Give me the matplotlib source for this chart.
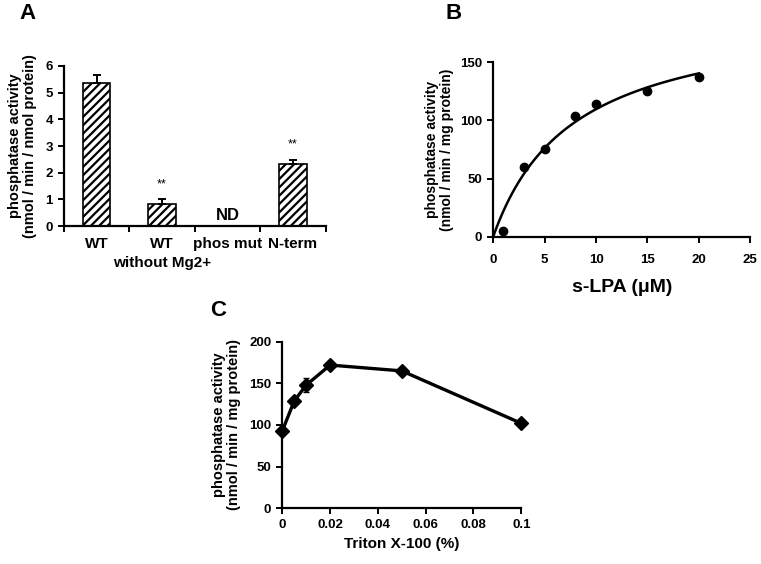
import numpy as np
import matplotlib
matplotlib.use('Agg')
import matplotlib.pyplot as plt

plt.rcParams['font.family'] = ['Liberation Sans', 'DejaVu Sans']
plt.rcParams['font.weight'] = 'bold'
plt.rcParams['axes.labelweight'] = 'bold'
plt.rcParams['hatch.linewidth'] = 1.6

# panel A
a_labels = ['WT', 'WT', 'phos mut', 'N-term']
a_sublabel = 'without Mg2+'
a_values = [5.37, 0.82, 0.0, 2.32]
a_errors = [0.28, 0.18, 0.0, 0.15]
a_marks = ['', '**', 'ND', '**']

# panel B
b_conc = [1, 3, 5, 8, 10, 15, 20]
b_activity = [5, 60, 75, 104, 114, 125, 137]
b_vmax = 195.0
b_km = 7.8

# panel C
c_triton = [0, 0.005, 0.01, 0.02, 0.05, 0.1]
c_activity = [93, 129, 148, 172, 165, 102]
c_errors = [4, 3, 8, 4, 3, 3]


def style_axes(ax):
	for side in ['top', 'right']:
		ax.spines[side].set_visible(False)
	for side in ['left', 'bottom']:
		ax.spines[side].set_linewidth(1.6)
	ax.tick_params(width=1.4, length=4, labelsize=9.5, pad=4)
	for lab in ax.get_xticklabels() + ax.get_yticklabels():
		lab.set_fontweight('bold')


fig = plt.figure(figsize=(7.61, 5.64), dpi=100)

# ---- A ----
ax = fig.add_axes([0.084, 0.599, 0.344, 0.284])
x = np.arange(len(a_values))
ax.bar(x, a_values, width=0.42, color='white', edgecolor='black',
	linewidth=1.2, hatch='////')
ax.errorbar(x, a_values, yerr=[np.zeros(len(a_errors)), a_errors],
	fmt='none', ecolor='black', elinewidth=1.4, capsize=3, capthick=1.4)
for xi, v, e, m in zip(x, a_values, a_errors, a_marks):
	if m == 'ND':
		ax.text(xi, 0.12, m, ha='center', va='bottom', fontsize=12)
	elif m:
		ax.text(xi, v + e + 0.35, m, ha='center', va='bottom', fontsize=9,
			fontweight='normal')
ax.set_xlim(-0.5, 3.5)
ax.set_ylim(0, 6)
ax.set_yticks(range(0, 7))
ax.set_xticks(np.arange(-0.5, 4, 1))
ax.set_xticklabels([])
ax.set_xticks(x, minor=True)
ax.set_xticklabels(a_labels, minor=True)
style_axes(ax)
ax.tick_params(axis='x', which='minor', length=0, labelsize=11, pad=8)
ax.text(1, -1.1, a_sublabel, ha='center', va='top', fontsize=11)
ax.set_ylabel('phosphatase activity\n(nmol / min / nmol protein)',
	fontsize=10.5, linespacing=1.1, labelpad=6)
fig.text(0.026, 0.995, 'A', fontsize=16, fontweight='bold', va='top')

# ---- B ----
ax = fig.add_axes([0.648, 0.580, 0.338, 0.310])
xs = np.linspace(0, 20, 100)
ax.plot(xs, b_vmax * xs / (b_km + xs), color='black', linewidth=1.8)
ax.plot(b_conc, b_activity, 'o', color='black', markersize=6)
ax.set_xlim(0, 25)
ax.set_ylim(0, 150)
ax.set_xticks(range(0, 26, 5))
ax.set_yticks([0, 50, 100, 150])
style_axes(ax)
ax.tick_params(axis='x', pad=8)
ax.set_ylabel('phosphatase activity\n(nmol / min / mg protein)', fontsize=10,
	linespacing=1.1)
ax.set_xlabel('s-LPA (\u03bcM)', fontsize=14, labelpad=10)
fig.text(0.585, 0.995, 'B', fontsize=16, fontweight='bold', va='top')

# ---- C ----
ax = fig.add_axes([0.371, 0.099, 0.314, 0.295])
ax.errorbar(c_triton, c_activity, yerr=c_errors, fmt='-D', color='black',
	linewidth=2.4, markersize=7, elinewidth=1.2, capsize=2.5, clip_on=False)
ax.set_xlim(0, 0.1)
ax.set_ylim(0, 200)
ax.set_xticks([0, 0.02, 0.04, 0.06, 0.08, 0.1])
ax.set_xticklabels(['0', '0.02', '0.04', '0.06', '0.08', '0.1'])
ax.set_yticks([0, 50, 100, 150, 200])
style_axes(ax)
ax.set_ylabel('phosphatase activity\n(nmol / min / mg protein)',
	fontsize=10.5, linespacing=1.1, labelpad=6)
ax.set_xlabel('Triton X-100 (%)', fontsize=11, labelpad=4)
fig.text(0.276, 0.468, 'C', fontsize=16, fontweight='bold', va='top')

fig.savefig('out.png', dpi=100)
